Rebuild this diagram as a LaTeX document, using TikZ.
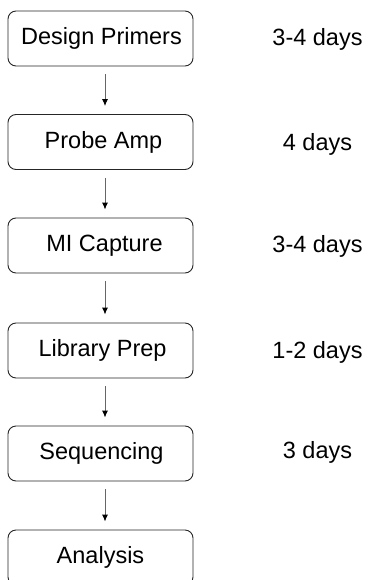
\documentclass[tikz,border=0pt]{standalone}
\usepackage{fontspec}
\setmainfont{Liberation Sans}
\usetikzlibrary{arrows.meta}
\begin{document}
\begin{tikzpicture}[x=1pt,y=-1pt,
  stepbox/.style={draw=black!85, line width=0.9pt, rounded corners=8pt, minimum width=185pt, minimum height=55pt, inner sep=0pt, font=\fontsize{23.5}{28}\selectfont},
  dur/.style={font=\fontsize{23.5}{28}\selectfont, inner sep=0pt},
  conn/.style={draw=black!60, line width=0.9pt, shorten <=8pt, shorten >=8pt, -{Latex[black, length=7pt, width=6pt]}}]
\useasboundingbox (0,0) rectangle (370,580);
\begin{scope}
\clip (0,0) rectangle (370,580);
\node[stepbox] (s1) at (100.5,38.5) {\hspace*{2pt}Design Primers};
\node[stepbox] (s2) at (100.5,142) {\hspace*{6pt}Probe Amp};
\node[stepbox] (s3) at (100.5,245.5) {\hspace*{8pt}MI Capture};
\node[stepbox] (s4) at (100.5,350.5) {\hspace*{4pt}Library Prep};
\node[stepbox] (s5) at (100.5,453.5) {\hspace*{2pt}Sequencing};
\node[stepbox] (s6) at (100.5,557.5) {Analysis};
\end{scope}
\foreach \a/\b in {s1/s2,s2/s3,s3/s4,s4/s5,s5/s6}
  \draw[conn] ([xshift=4.5pt]\a.south) -- ([xshift=4.5pt]\b.north);
\node[dur] (d1) at (317.5,39) {3-4 days};
\node[dur] (d2) at (317.5,144) {4 days};
\node[dur] (d3) at (317.5,246) {3-4 days};
\node[dur] (d4) at (317.5,352) {1-2 days};
\node[dur] (d5) at (317.5,452) {3 days};
\end{tikzpicture}
\end{document}
